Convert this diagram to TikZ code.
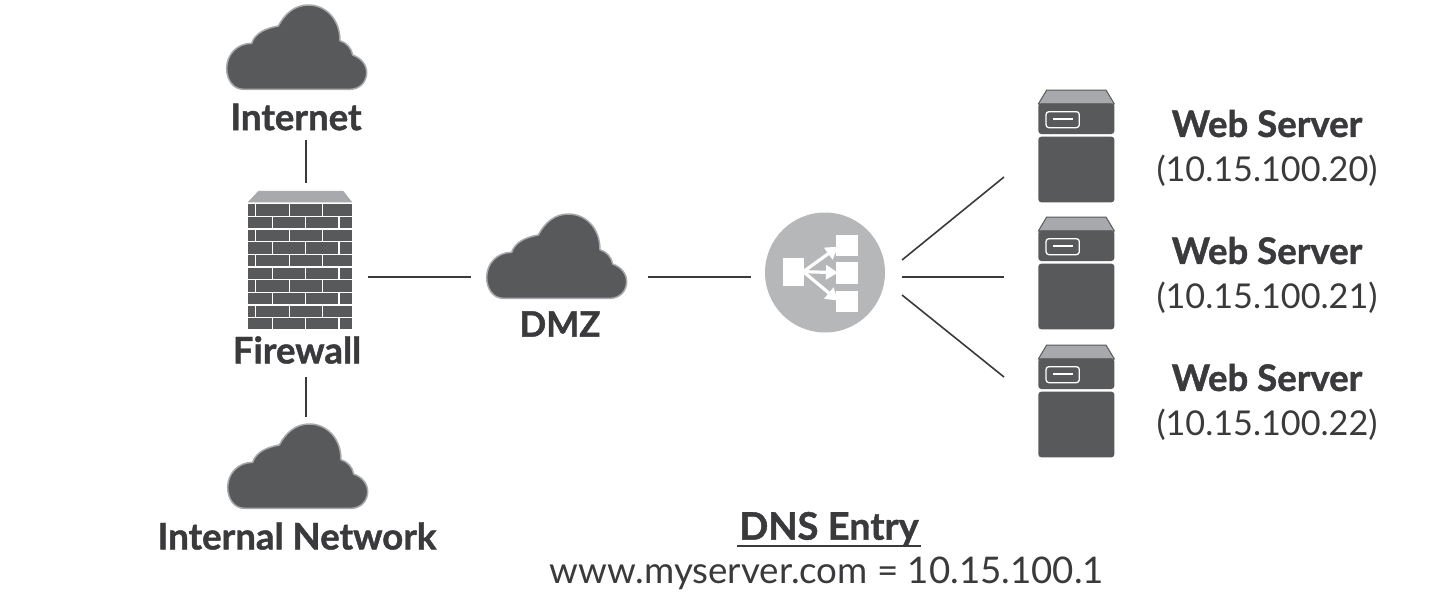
\documentclass[tikz,border=0pt]{standalone}
\usepackage{fontspec}
\setmainfont{Lato}[BoldFeatures={FakeBold=1.2}]
\definecolor{dk}{HTML}{58595B}
\definecolor{md}{HTML}{A7A9AC}
\definecolor{lb}{HTML}{B5B7B9}
\definecolor{tx}{HTML}{3A3A3C}
\usetikzlibrary{arrows.meta}
\tikzset{
  link/.style={draw=tx,line width=1.6pt},
  head/.style={inner sep=0pt,text=tx,font=\fontsize{36.6}{40}\selectfont\bfseries},
  addr/.style={inner sep=0pt,text=tx,font=\fontsize{34.2}{38}\selectfont},
  urlt/.style={inner sep=0pt,text=tx,font=\fontsize{36.7}{40}\selectfont},
  ghost/.style={inner sep=0pt,outer sep=0pt,draw=none,fill=none},
  pics/cloudicon/.style={code={
    \begin{scope}[scale=1/3]
    \draw[fill=dk,draw=md,line width=1.5pt]
      (100,268) .. controls (70,268) and (50,240) .. (50,205)
      .. controls (50,165) and (80,130) .. (125,130)
      .. controls (135,100) and (165,85) .. (205,78)
      .. controls (225,40) and (255,15) .. (295,15)
      .. controls (345,15) and (390,55) .. (390,122)
      .. controls (410,128) and (425,145) .. (428,165)
      .. controls (455,175) and (470,195) .. (470,218)
      .. controls (470,245) and (450,268) .. (420,268) -- cycle;
    \end{scope}}},
  pics/servericon/.style={code={
    \begin{scope}[scale=1/3]
    \fill[md,draw=dk,line width=1pt,line join=round] (55,72) -- (80,30) -- (258,30) -- (283,72) -- cycle;
    \fill[dk,rounded corners=3pt] (55,70) rectangle (283,162);
    \fill[dk,rounded corners=3pt] (55,170) rectangle (283,367);
    \draw[white,line width=1.3pt,rounded corners=3pt] (78,95) rectangle (178,143);
    \draw[white,line width=1.5pt] (100,117) -- (158,117);
    \end{scope}}},
  pics/wallicon/.style={code={
    \begin{scope}[scale=1/3]
    \fill[md] (113,607) -- (145,573) -- (400,573) -- (427,607) -- cycle;
    \fill[dk] (113,610) rectangle (427,988);
    \foreach \i in {0,...,9}{
      \pgfmathsetmacro{\ya}{611+38*\i}
      \pgfmathsetmacro{\yb}{\ya+38}
      \draw[white,line width=1.1pt] (113,\ya) -- (427,\ya);
      \pgfmathtruncatemacro{\odd}{mod(\i,2)}
      \ifnum\odd=0
        \foreach \v in {137,238,338}{\draw[white,line width=1.1pt] (\v,\ya) -- (\v,\yb);}
      \else
        \foreach \v in {187,287,387}{\draw[white,line width=1.1pt] (\v,\ya) -- (\v,\yb);}
      \fi
    }
    \end{scope}}},
  pics/balancericon/.style={code={
    \begin{scope}[scale=1/3]
    \fill[white] (100,203) rectangle (162,288);
    \fill[white] (258,135) rectangle (323,198);
    \fill[white] (258,217) rectangle (323,282);
    \fill[white] (258,302) rectangle (323,365);
    \foreach \e in {170,248,332}{
      \draw[white,line width=3.2pt,-{Triangle[length=12pt,width=14pt]}] (160,245) -- (264,\e);}
    \end{scope}}}
}
\begin{document}
\begin{tikzpicture}[x=1pt,y=-1pt]
\useasboundingbox (0,0) rectangle (1456,597);
% icons
\pic at (210,0) {cloudicon};
\pic at (470,209) {cloudicon};
\pic at (211,419) {cloudicon};
\pic at (210,0) {wallicon};
\node[ghost,circle,fill=lb,minimum size=120pt] (lbal) at (825,272.5) {};
\pic at (750,190) {balancericon};
\pic at (1020,80) {servericon};
\pic at (1020,207) {servericon};
\pic at (1020,335) {servericon};
% anchors for the icons
\node[ghost,minimum width=105pt,minimum height=139pt] (wall) at (299.5,260.5) {};
\node[ghost,minimum width=140pt,minimum height=86pt] (dmz) at (557,257) {};
\node[ghost,minimum width=140pt,minimum height=86pt] (intc) at (297.5,467) {};
\node[ghost,minimum width=77pt,minimum height=112pt] (srva) at (1076.5,146) {};
\node[ghost,minimum width=77pt,minimum height=112pt] (srvb) at (1076.5,273) {};
\node[ghost,minimum width=77pt,minimum height=112pt] (srvc) at (1076.5,401) {};
% labels
\node[head] (inet) at (296,117) {Internet};
\node[head] (fw) at (297,350) {Firewall};
\node[head,font=\fontsize{35}{40}\selectfont\bfseries] (dmzl) at (560,324) {DMZ};
\node[head] (intl) at (297,536) {Internal Network};
\node[head] at (1267,123.5) {Web Server};
\node[addr] at (1267,171) {(10.15.100.20)};
\node[head] at (1267,250.5) {Web Server};
\node[addr] at (1267,298) {(10.15.100.21)};
\node[head] at (1267,377.5) {Web Server};
\node[addr] at (1267,425) {(10.15.100.22)};
\node[head] (dns) at (829,529) {\fontsize{38}{40}\selectfont DNS Entry};
\draw[tx,line width=2.4pt] (737,546) -- (921,546);
\node[urlt] (www) at (827,573) {www.myserver.com = 10.15.100.1};
% connectors
\draw[link] ([shift={(10,9)}]inet.south) -- ([shift={(6.5,-8)}]wall.north);
\draw[link] ([shift={(9,13)}]fw.south) -- ([shift={(8.5,-7)}]intc.north);
\draw[link] ([shift={(16,16.5)}]wall.east) -- ([shift={(-16,20)}]dmz.west);
\draw[link] ([shift={(21,20)}]dmz.east) -- ([shift={(-14,4.5)}]lbal.west);
\draw[link] ([shift={(17,-12.5)}]lbal.east) -- ([shift={(-34,31)}]srva.west);
\draw[link] ([shift={(17,4.5)}]lbal.east) -- ([shift={(-34,4)}]srvb.west);
\draw[link] ([shift={(17,22.5)}]lbal.east) -- ([shift={(-34,-24)}]srvc.west);
\end{tikzpicture}
\end{document}
